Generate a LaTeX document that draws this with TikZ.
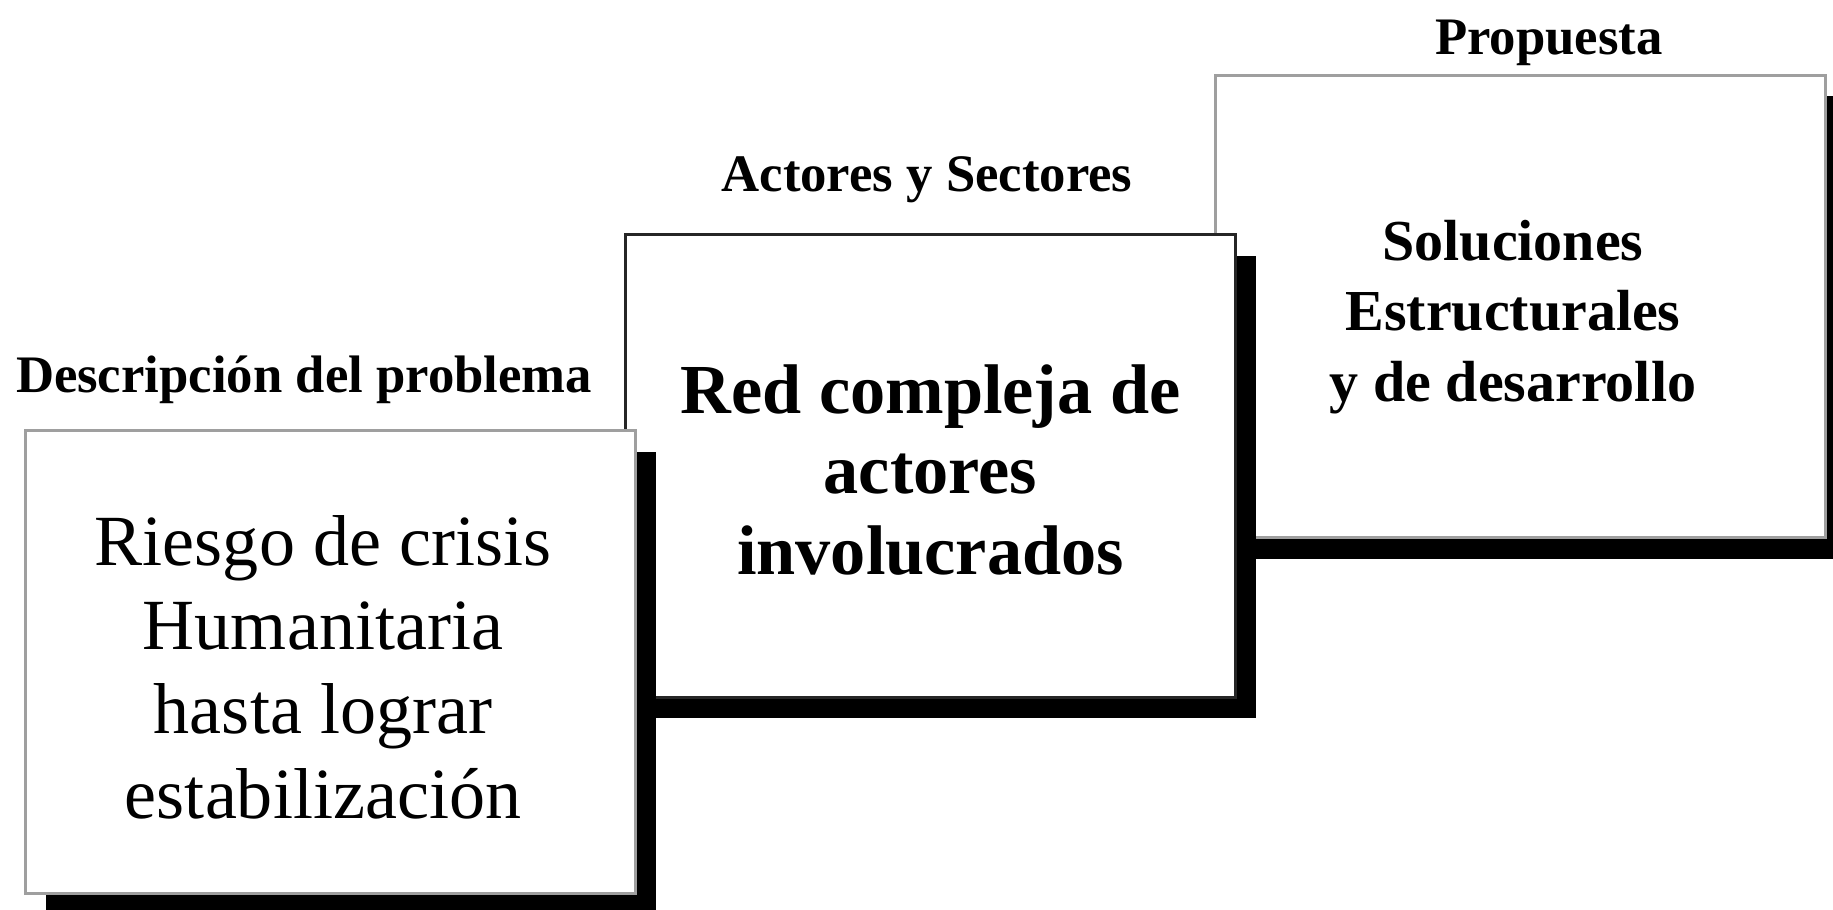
\documentclass[tikz,border=0pt]{standalone}
\usepackage{fontspec}
\setmainfont{Liberation Serif}
\usepackage{xcolor}
\usepackage{tikz}
\usetikzlibrary{shadows,positioning}

\tikzset{
  caja/.style={rectangle, draw=gray!75, line width=1.6pt, fill=white,
    minimum width=12.2cm, minimum height=9.25cm,
    drop shadow={shadow xshift=0.4cm, shadow yshift=-0.42cm, opacity=1, fill=black}},
  texto/.style={align=center, inner sep=0pt},
  titulo/.style={font=\bfseries\fontsize{30}{36}\selectfont, inner sep=0pt}
}

\begin{document}
\begin{tikzpicture}%
    \useasboundingbox (0,0) rectangle (36.66,18.18);
    \node[caja] (propuesta) at (30.41,12.05) {};
    \node[texto, font=\bfseries\fontsize{33}{40}\selectfont] (tsol)
      at ([xshift=-0.15cm,yshift=-0.21cm]propuesta.center)
      {Soluciones\\Estructurales\\y de desarrollo};
    \node[caja, draw=black!85] (actores) at (18.61,8.86) {};
    \node[texto, font=\bfseries\fontsize{40}{46}\selectfont] (tred)
      at ([yshift=-0.08cm]actores.center)
      {Red compleja de\\actores\\involucrados};
    \node[caja] (problema) at (6.61,4.94) {};
    \node[texto, font=\fontsize{41}{48}\selectfont] (triesgo)
      at ([xshift=-0.15cm,yshift=-0.1cm]problema.center)
      {Riesgo de crisis\\Humanitaria\\hasta lograr\\estabilización};
    \node[titulo] (tprob) at (6.08,10.58) {Descripción del problema};
    \node[titulo] (tact) at (18.54,14.58) {Actores y Sectores};
    \node[titulo] (tprop) at (30.98,17.32) {Propuesta};
\end{tikzpicture}
\end{document}
